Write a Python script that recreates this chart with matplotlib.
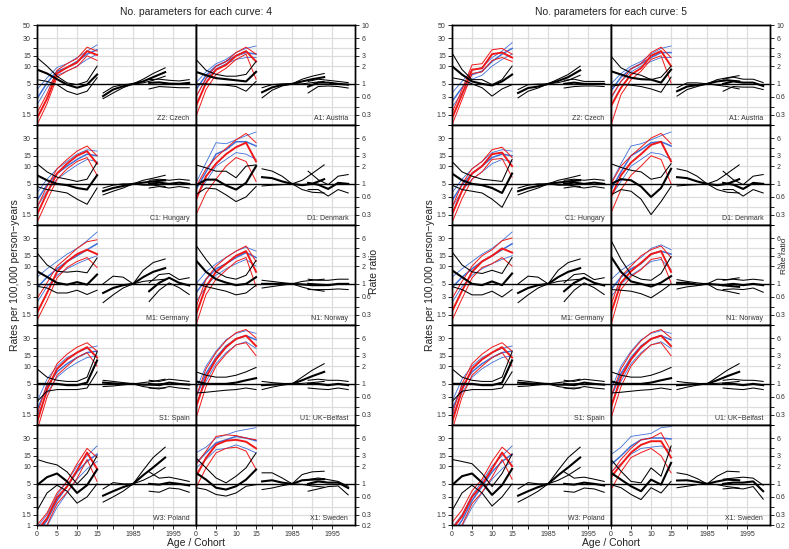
import numpy as np
import matplotlib.pyplot as plt

plt.rcParams['font.family'] = ['Liberation Sans', 'DejaVu Sans']

# x grids of the curves
AGE = [0, 2.5, 5, 7.5, 10, 12.5, 15]
COHORT = [1977.5, 1980, 1982.5, 1985, 1987.5, 1990, 1993]
PERIOD = [1989, 1991.5, 1994, 1996.5, 1999]
ORIGIN = 1961  # calendar year drawn at age 0 of the frame

countries = ['Z2: Czech', 'A1: Austria', 'C1: Hungary', 'D1: Denmark', 'M1: Germany',
             'N1: Norway', 'S1: Spain', 'U1: UK\u2212Belfast', 'W3: Poland', 'X1: Sweden']

# ---- 4 parameters: [upper, estimate, lower] per country ----
red4 = [
    [[1.6, 3.4, 8.5, 11, 13.5, 21, 18], [1.3, 2.8, 7.5, 9.5, 11.5, 18, 15.5], [1.0, 2.3, 6.5, 8.3, 9.8, 15, 12.5]],
    [[3.0, 6.3, 10, 12, 17, 21, 16], [2.1, 5.2, 8.7, 10.5, 15, 18, 12], [1.4, 4.0, 7.2, 9.2, 13, 16, 6]],
    [[2.0, 4.5, 9, 13, 18, 22, 15], [1.5, 3.5, 7.5, 11, 15, 18, 11], [1.1, 2.6, 6, 9, 12, 14, 7]],
    [[4.5, 9, 14, 20, 28, 36, 25], [2.7, 6.7, 11, 16, 21, 25, 12], [1.5, 3.5, 6, 10, 14, 12, 5.5]],
    [[2.8, 5.2, 10, 14, 20, 26, 28], [1.6, 3.5, 8, 12, 16, 19, 16], [1.2, 2.6, 6.3, 9.5, 12, 14, 9.5]],
    [[2.0, 6, 10, 14, 18, 22, 12], [1.5, 4.5, 8, 11, 15, 18, 8], [1.0, 3.3, 6, 8.5, 12, 14, 4.5]],
    [[1.5, 5, 11, 16, 21, 25, 18], [1.1, 4, 9, 13, 17, 21, 14], [0.8, 3, 7, 10, 14, 17, 10]],
    [[3, 9, 17, 27, 37, 42, 30], [2, 6.5, 13, 21, 29, 33, 22], [1.3, 4.5, 10, 16, 23, 25, 15]],
    [[1.0, 1.6, 3.5, 5.5, 11, 20, 14], [0.8, 1.3, 2.9, 4.5, 8.5, 17, 9], [0.6, 1.0, 2.3, 3.6, 6.2, 13, 5.5]],
    [[10.6, 18, 32, 34, 33, 30, 28], [6.7, 13.8, 23, 27, 28, 26, 20], [4.3, 9.3, 16.8, 20, 21, 18, 8.8]],
]
blue4 = [
    [[4.0, 6.3, 9.5, 11, 14, 18, 23], [2.8, 5.2, 8.2, 9.5, 12, 16, 19], [2.2, 4.3, 7.0, 8.2, 10, 13, 16]],
    [[5.2, 8, 11, 13, 17, 20, 22], [4, 7, 10, 12, 15, 17, 16], [3, 6, 9, 11, 13, 14, 14]],
    [[3.5, 6, 9, 12, 16, 19, 18], [2.6, 4.8, 7.5, 10, 13, 16, 15], [2.0, 3.8, 6, 8, 10.5, 13, 12]],
    [[5.2, 11.4, 25, 24, 28, 33, 38], [4.0, 8, 16, 19, 26, 26, 22], [3.1, 5.5, 10, 13, 17, 16, 13]],
    [[6.5, 9, 12, 16, 20, 27, 38], [4.3, 6.5, 9, 12, 15, 19, 24], [2.4, 4.5, 7, 9, 11, 13, 15]],
    [[5, 8, 11, 14, 18, 21, 18], [3.5, 6, 9, 11, 14, 17, 14], [2.5, 4.5, 7, 9, 11, 13, 10]],
    [[2.5, 6, 10, 14, 17, 20, 22], [1.8, 4.5, 8, 11, 14, 17, 18], [1.4, 3.5, 6.5, 9, 11.5, 14, 15]],
    [[4, 10, 18, 28, 36, 40, 36], [3, 7.5, 14, 22, 29, 33, 28], [2.2, 5.5, 11, 17, 23, 26, 20]],
    [[0.9, 1.5, 3.2, 5.5, 10, 15, 22], [0.7, 1.2, 2.6, 4.5, 8, 12, 16], [0.5, 0.95, 2.0, 3.5, 6, 9, 12]],
    [[16.8, 21, 30, 34, 39, 42, 45], [11.3, 16.8, 24.8, 28, 32, 30, 27], [9.3, 13, 19, 20, 23, 20, 16.8]],
]
ratio4 = [
    [[2.8, 2.0, 1.35, 1.04, 0.97, 1.1, 2.0], [1.75, 1.5, 1.2, 0.97, 0.86, 0.97, 1.44], [1.18, 1.1, 0.97, 0.75, 0.66, 0.75, 1.27]],
    [[2.6, 1.7, 1.45, 1.35, 1.35, 1.45, 2.4], [1.6, 1.4, 1.25, 1.2, 1.15, 1.1, 1.6], [1.0, 1.0, 0.97, 0.95, 0.9, 0.75, 1.1]],
    [[2.2, 1.6, 1.3, 1.2, 1.1, 1.2, 2.3], [1.4, 1.15, 1.0, 0.95, 0.85, 0.8, 1.4], [0.9, 0.8, 0.75, 0.7, 0.55, 0.45, 0.85]],
    [[2.1, 1.87, 1.64, 1.64, 1.27, 2.0, 2.1], [0.94, 1.18, 1.18, 0.94, 0.8, 1.04, 2.0], [0.66, 0.85, 0.82, 0.65, 0.5, 0.6, 0.9]],
    [[3.36, 2.1, 1.64, 1.58, 1.64, 1.54, 2.76], [1.64, 1.31, 1.04, 0.97, 1.07, 0.97, 1.44], [0.91, 0.85, 0.7, 0.7, 0.78, 0.66, 0.78]],
    [[4.5, 2.6, 1.6, 1.3, 1.2, 1.4, 2.5], [2.5, 1.6, 1.2, 1.05, 0.95, 1.0, 1.3], [1.0, 0.9, 0.82, 0.75, 0.65, 0.7, 0.95]],
    [[1.8, 1.3, 1.15, 1.1, 1.1, 1.3, 3.5], [1.0, 1.0, 1.0, 0.95, 0.95, 1.05, 2.5], [0.5, 0.75, 0.8, 0.8, 0.8, 0.85, 1.6]],
    [[1.6, 1.4, 1.3, 1.3, 1.4, 1.6, 1.9], [1.1, 1.0, 1.0, 1.0, 1.05, 1.15, 1.25], [0.7, 0.72, 0.75, 0.78, 0.8, 0.85, 0.8]],
    [[2.6, 2.3, 2.1, 1.6, 1.0, 1.5, 3.0], [0.95, 1.3, 1.5, 1.1, 0.7, 0.95, 1.75], [0.35, 0.7, 0.95, 0.75, 0.47, 0.6, 1.0]],
    [[2.76, 1.87, 1.26, 1.04, 1.35, 1.87, 3.35], [1.54, 1.18, 0.86, 0.8, 0.91, 1.18, 1.75], [0.86, 0.8, 0.66, 0.62, 0.7, 0.91, 0.97]],
]
coh4 = [
    [[0.7, 0.89, 0.97, 1, 1.2, 1.5, 1.87], [0.62, 0.8, 0.91, 1, 1.1, 1.3, 1.58], [0.56, 0.7, 0.86, 1, 1.04, 1.15, 1.35]],
    [[0.86, 0.97, 1.0, 1, 1.2, 1.35, 1.5], [0.72, 0.87, 0.96, 1, 1.1, 1.2, 1.3], [0.58, 0.78, 0.92, 1, 1.0, 1.05, 1.1]],
    [[0.85, 0.95, 1.0, 1, 1.15, 1.25, 1.4], [0.75, 0.85, 0.92, 1, 1.05, 1.1, 1.15], [0.65, 0.75, 0.85, 1, 0.95, 0.95, 0.9]],
    [[1.8, 1.65, 1.35, 1, 1.15, 1.5, 2.1], [1.3, 1.25, 1.1, 1, 0.95, 1.0, 1.2], [0.92, 0.95, 0.97, 1, 0.8, 0.72, 0.7]],
    [[1.0, 1.35, 1.3, 1, 1.7, 2.3, 2.65], [0.7, 0.85, 0.95, 1, 1.3, 1.6, 1.85], [0.48, 0.65, 0.85, 1, 1.1, 1.15, 1.2]],
    [[1.15, 1.1, 1.05, 1, 1.1, 1.15, 1.2], [1.0, 1.0, 1.0, 1, 0.98, 0.95, 0.95], [0.85, 0.9, 0.95, 1, 0.88, 0.8, 0.75]],
    [[1.15, 1.1, 1.05, 1, 1.05, 1.1, 1.2], [1.05, 1.02, 1.0, 1, 0.97, 0.97, 1.0], [0.9, 0.92, 0.96, 1, 0.9, 0.85, 0.85]],
    [[1.1, 1.05, 1.02, 1, 1.3, 1.7, 2.2], [0.95, 0.97, 0.99, 1, 1.15, 1.35, 1.6], [0.8, 0.88, 0.95, 1, 1.02, 1.05, 1.1]],
    [[0.82, 1.05, 1.0, 1, 1.7, 2.8, 4.2], [0.63, 0.75, 0.88, 1, 1.4, 1.9, 2.8], [0.49, 0.6, 0.75, 1, 1.15, 1.4, 1.9]],
    [[1.54, 1.54, 1.26, 1, 1.44, 1.6, 1.64], [1.1, 1.15, 1.05, 1, 1.15, 1.18, 1.2], [0.8, 0.85, 0.93, 1, 0.98, 0.92, 0.88]],
]
per4 = [
    [[1.18, 1.2, 1.15, 1.12, 1.18], [1.04, 1.06, 1.01, 1.0, 1.04], [0.82, 0.9, 0.88, 0.86, 0.86]],
    [[1.1, 1.2, 1.15, 1.1, 1.05], [0.9, 1.05, 1.05, 1.0, 0.97], [0.7, 0.9, 0.92, 0.9, 0.85]],
    [[1.15, 1.2, 1.15, 1.2, 1.15], [1.0, 1.05, 1.0, 1.05, 1.0], [0.85, 0.9, 0.85, 0.9, 0.85]],
    [[1.64, 1.18, 0.97, 1.35, 1.44], [1.04, 0.97, 0.82, 1.04, 1.0], [0.8, 0.8, 0.62, 0.8, 0.7]],
    [[1.04, 1.44, 1.5, 1.18, 1.27], [0.75, 1.04, 1.27, 1.04, 0.94], [0.5, 0.78, 1.04, 0.86, 0.66]],
    [[1.2, 1.15, 1.15, 1.2, 1.2], [1.0, 0.97, 0.95, 1.0, 1.0], [0.8, 0.8, 0.8, 0.82, 0.8]],
    [[1.15, 1.1, 1.2, 1.15, 1.1], [1.0, 0.95, 1.05, 1.0, 0.97], [0.85, 0.82, 0.9, 0.85, 0.82]],
    [[1.15, 1.2, 1.15, 1.15, 1.1], [1.0, 1.0, 0.95, 1.0, 0.95], [0.85, 0.82, 0.8, 0.85, 0.8]],
    [[1.6, 1.25, 1.3, 1.2, 1.1], [1.0, 0.97, 1.05, 1.0, 0.94], [0.75, 0.72, 0.85, 0.82, 0.72]],
    [[1.18, 1.26, 1.18, 1.1, 0.91], [1.0, 1.1, 1.05, 1.05, 0.85], [0.75, 0.82, 0.9, 0.92, 0.65]],
]

# ---- 5 parameters ----
red5 = [
    [[1.6, 4, 10.5, 11, 19, 20, 16], [1.3, 3.3, 8.7, 9.2, 16, 17, 14], [1.0, 2.7, 7.5, 8, 12.5, 14, 12]],
    [[3.0, 5.5, 9, 11, 17, 21, 14], [2.1, 4.3, 7.2, 9.2, 15, 18, 10], [1.0, 3.3, 5.9, 8.2, 13, 15, 5.2]],
    [[2.0, 5, 9, 12, 19, 21, 14], [1.5, 3.8, 7.5, 10, 16, 17, 10], [1.1, 2.8, 6, 8, 13, 13.5, 6.5]],
    [[5, 10, 15, 21, 30, 36, 24], [3, 7, 11.5, 16, 23, 26, 12], [1.6, 4, 7, 10, 15, 13, 5]],
    [[2.8, 5.5, 10, 15, 19, 27, 30], [1.7, 3.8, 8, 12, 15, 20, 17], [1.2, 2.8, 6.3, 9.5, 11, 14, 10]],
    [[2.2, 6.7, 10, 15, 19, 22, 14], [1.6, 5.2, 8.2, 11.4, 16, 18, 8], [1.0, 4.0, 6.7, 8.7, 13, 14, 5.2]],
    [[1.5, 5, 11, 16, 21, 25, 18], [1.1, 4, 9, 13, 17, 21, 14], [0.8, 3, 7, 10, 14, 17, 10]],
    [[3, 9, 17, 27, 37, 42, 30], [2, 6.5, 13, 21, 29, 33, 22], [1.3, 4.5, 10, 16, 23, 25, 15]],
    [[1.1, 1.8, 3.8, 6, 12, 21, 15], [0.85, 1.4, 3.0, 4.8, 9, 17, 10], [0.6, 1.0, 2.3, 3.6, 6.5, 13, 6]],
    [[7.5, 13, 20, 28, 30, 37, 18], [6.5, 10.6, 17, 23, 26.5, 26.5, 14], [4.0, 8, 14, 17, 20, 15, 7.7]],
]
blue5 = [
    [[3.5, 5.5, 8.5, 9.5, 14, 18, 25], [2.5, 4.3, 7.2, 8.2, 12, 16, 20], [2.0, 3.5, 6, 7, 10, 13, 16]],
    [[5, 7.5, 10, 12, 16, 20, 22], [3.8, 6.5, 9, 11, 14, 17, 17], [2.8, 5.5, 8, 10, 12, 14, 14]],
    [[3.5, 6, 9, 12, 17, 19, 18], [2.6, 4.8, 7.5, 10, 14, 16, 15], [2.0, 3.8, 6, 8, 11, 13, 12]],
    [[5.2, 11, 22, 24, 28, 33, 38], [4.0, 8, 15, 19, 25, 26, 22], [3.1, 5.5, 10, 13, 17, 16, 13]],
    [[6.5, 9, 12, 16, 20, 27, 38], [4.3, 6.5, 9, 12, 15, 19, 24], [2.4, 4.5, 7, 9, 11, 13, 15]],
    [[5.9, 8.5, 11, 14, 20, 23, 19], [4.0, 6.5, 9, 11, 16, 18, 16], [3.0, 5, 7, 9, 12, 13, 8.7]],
    [[2.5, 6, 10, 14, 17, 20, 22], [1.8, 4.5, 8, 11, 14, 17, 18], [1.4, 3.5, 6.5, 9, 11.5, 14, 15]],
    [[4, 10, 18, 28, 36, 40, 36], [3, 7.5, 14, 22, 29, 33, 28], [2.2, 5.5, 11, 17, 23, 26, 20]],
    [[0.9, 1.5, 3.2, 5.5, 10, 15, 22], [0.7, 1.2, 2.6, 4.5, 8, 12, 16], [0.5, 0.95, 2.0, 3.5, 6, 9, 12]],
    [[15.7, 21, 32, 34, 36, 45, 47], [10.6, 15, 22, 28, 30, 30, 29], [8.1, 11, 16, 20, 21, 22, 18]],
]
ratio5 = [
    [[3.36, 1.75, 1.18, 1.18, 0.97, 1.18, 2.0], [2.0, 1.44, 1.1, 1.0, 0.94, 1.1, 1.44], [1.27, 1.18, 1.0, 0.86, 0.62, 0.82, 0.97]],
    [[2.95, 1.87, 1.54, 1.4, 1.18, 1.3, 2.0], [1.64, 1.44, 1.27, 1.2, 1.18, 1.05, 1.75], [0.91, 0.97, 0.95, 0.9, 0.82, 0.72, 1.3]],
    [[2.4, 1.6, 1.35, 1.2, 1.15, 1.1, 2.6], [1.5, 1.15, 1.0, 0.95, 0.85, 0.7, 1.5], [0.95, 0.8, 0.75, 0.7, 0.55, 0.4, 0.85]],
    [[2.2, 1.9, 1.7, 1.6, 1.2, 1.3, 2.2], [1.0, 1.2, 1.15, 0.9, 0.6, 0.85, 1.8], [0.65, 0.8, 0.75, 0.55, 0.3, 0.5, 0.9]],
    [[3.5, 2.1, 1.6, 1.5, 1.7, 1.5, 2.8], [1.7, 1.3, 1.0, 0.95, 1.1, 0.95, 1.5], [0.9, 0.8, 0.65, 0.65, 0.75, 0.6, 0.8]],
    [[5.5, 2.6, 1.44, 1.2, 1.15, 1.5, 2.9], [2.9, 1.6, 1.1, 1.0, 0.9, 1.05, 1.35], [0.8, 0.78, 0.75, 0.68, 0.58, 0.75, 1.0]],
    [[1.8, 1.3, 1.15, 1.1, 1.1, 1.3, 3.5], [1.0, 1.0, 1.0, 0.95, 0.95, 1.05, 2.5], [0.5, 0.75, 0.8, 0.8, 0.8, 0.85, 1.6]],
    [[1.6, 1.4, 1.3, 1.3, 1.4, 1.6, 1.9], [1.1, 1.0, 1.0, 1.0, 1.05, 1.15, 1.25], [0.7, 0.72, 0.75, 0.78, 0.8, 0.85, 0.8]],
    [[2.6, 2.4, 2.2, 1.5, 0.9, 1.5, 3.2], [0.95, 1.35, 1.5, 1.05, 0.65, 0.95, 1.8], [0.35, 0.7, 0.95, 0.7, 0.42, 0.6, 1.0]],
    [[2.6, 1.64, 1.1, 1.04, 1.87, 1.35, 4.4], [1.54, 1.18, 0.91, 0.75, 1.18, 0.97, 2.27], [0.97, 0.86, 0.66, 0.54, 0.86, 0.7, 1.1]],
]
coh5 = [
    [[0.8, 0.97, 0.99, 1, 1.2, 1.44, 2.0], [0.7, 0.85, 0.9, 1, 1.12, 1.3, 1.7], [0.58, 0.75, 0.85, 1, 1.05, 1.15, 1.4]],
    [[0.86, 1.04, 1.04, 1, 1.18, 1.27, 1.38], [0.75, 0.9, 0.95, 1, 1.1, 1.15, 1.1], [0.62, 0.8, 0.9, 1, 0.95, 0.9, 0.82]],
    [[0.85, 0.95, 1.0, 1, 1.15, 1.25, 1.4], [0.75, 0.85, 0.92, 1, 1.05, 1.1, 1.15], [0.65, 0.75, 0.85, 1, 0.95, 0.95, 0.9]],
    [[1.8, 1.65, 1.35, 1, 1.15, 1.5, 2.1], [1.3, 1.25, 1.1, 1, 0.95, 1.0, 1.2], [0.92, 0.95, 0.97, 1, 0.8, 0.72, 0.7]],
    [[1.0, 1.35, 1.3, 1, 1.7, 2.3, 2.65], [0.7, 0.85, 0.95, 1, 1.3, 1.6, 1.85], [0.48, 0.65, 0.85, 1, 1.1, 1.15, 1.2]],
    [[1.18, 1.1, 1.04, 1, 1.2, 1.18, 1.27], [1.04, 1.04, 0.97, 1, 0.97, 0.93, 0.89], [0.82, 0.89, 0.93, 1, 0.8, 0.75, 0.68]],
    [[1.15, 1.1, 1.05, 1, 1.05, 1.1, 1.2], [1.05, 1.02, 1.0, 1, 0.97, 0.97, 1.0], [0.9, 0.92, 0.96, 1, 0.9, 0.85, 0.85]],
    [[1.1, 1.05, 1.02, 1, 1.3, 1.7, 2.2], [0.95, 0.97, 0.99, 1, 1.15, 1.35, 1.6], [0.8, 0.88, 0.95, 1, 1.02, 1.05, 1.1]],
    [[0.82, 1.05, 1.0, 1, 1.7, 2.8, 4.2], [0.63, 0.75, 0.88, 1, 1.4, 1.9, 2.8], [0.49, 0.6, 0.75, 1, 1.15, 1.4, 1.9]],
    [[1.54, 1.44, 1.23, 1, 1.35, 1.64, 1.6], [1.14, 1.15, 1.08, 1, 1.1, 1.18, 1.15], [0.86, 0.91, 0.97, 1, 0.97, 0.9, 0.85]],
]
per5 = [
    [[1.15, 1.2, 1.1, 1.1, 1.1], [1.0, 1.05, 1.0, 1.0, 1.0], [0.85, 0.9, 0.92, 0.92, 0.9]],
    [[1.2, 1.3, 1.2, 1.2, 1.05], [1.0, 1.1, 1.05, 1.05, 0.92], [0.75, 0.9, 0.88, 0.88, 0.8]],
    [[1.15, 1.2, 1.15, 1.2, 1.15], [1.0, 1.05, 1.0, 1.05, 1.0], [0.85, 0.9, 0.85, 0.9, 0.85]],
    [[1.64, 1.18, 0.97, 1.35, 1.44], [1.04, 0.97, 0.82, 1.04, 1.0], [0.8, 0.8, 0.62, 0.8, 0.7]],
    [[1.04, 1.44, 1.5, 1.18, 1.27], [0.75, 1.04, 1.27, 1.04, 0.94], [0.5, 0.78, 1.04, 0.86, 0.66]],
    [[1.15, 1.2, 1.15, 1.2, 1.15], [0.95, 1.0, 0.95, 1.0, 0.95], [0.8, 0.82, 0.8, 0.85, 0.72]],
    [[1.15, 1.1, 1.2, 1.15, 1.1], [1.0, 0.95, 1.05, 1.0, 0.97], [0.85, 0.82, 0.9, 0.85, 0.82]],
    [[1.15, 1.2, 1.15, 1.15, 1.1], [1.0, 1.0, 0.95, 1.0, 0.95], [0.85, 0.82, 0.8, 0.85, 0.8]],
    [[1.6, 1.25, 1.3, 1.2, 1.1], [1.0, 0.97, 1.05, 1.0, 0.94], [0.75, 0.72, 0.85, 0.82, 0.72]],
    [[1.2, 1.25, 1.3, 1.25, 0.95], [1.0, 1.05, 1.05, 1.1, 0.75], [0.82, 0.85, 0.82, 0.9, 0.55]],
]

rate_ticks = [1, 1.5, 2, 3, 5, 10, 15, 20, 30, 50]
rr_ticks = [0.2, 0.3, 0.4, 0.6, 1, 2, 3, 4, 6, 10]
x_ticks = [0, 5, 10, 15, 19, 24, 29, 34]
x_labels = ['0', '5', '10', '15', '', '1985', '', '1995']

RED = '#f01818'
BLUE = '#3f6fd8'
GRID = '#dddddd'
TXT = '#333333'

W, H = 789, 549
fig = plt.figure(figsize=(W / 100, H / 100), dpi=100)


def fmt(v):
    return ('%g' % v)


def draw_panel(x0, y0, col, row, name, red, blue, ratio, coh, per):
    ax = fig.add_axes([x0 / W, 1 - (y0 + 100) / H, 159 / W, 100 / H])
    ax.set_yscale('log')
    ax.set_ylim(1, 50)
    ax.set_xlim(0, 39.7)
    for g in [1.5, 2, 3, 10, 15, 20, 30]:
        ax.axhline(g, color=GRID, lw=0.9, zorder=0)
    for g in x_ticks:
        ax.axvline(g, color=GRID, lw=0.9, zorder=0)
    ax2 = ax.twinx()
    ax2.set_yscale('log')
    ax2.set_ylim(0.2, 10)
    ax2.axhline(1, color='black', lw=1.0, zorder=1)

    for k, ln in enumerate(blue):
        ax.plot(AGE, ln, color=BLUE, lw=1.1 if k == 1 else 0.6, zorder=2)
    for k, ln in enumerate(red):
        ax.plot(AGE, ln, color=RED, lw=1.4 if k == 1 else 0.7, zorder=3)
    for k in range(3):
        lw = 1.5 if k == 1 else 0.75
        ax2.plot(AGE, ratio[k], color='black', lw=lw, zorder=4)
        ax2.plot(np.array(COHORT) - ORIGIN, coh[k], color='black', lw=lw, zorder=4)
        ax2.plot(np.array(PERIOD) - ORIGIN, per[k], color='black', lw=lw, zorder=4)

    ax.text(0.958, 0.07, name, transform=ax.transAxes, ha='right', va='center',
            fontsize=5, color=TXT)

    for a in (ax, ax2):
        for s in a.spines.values():
            s.set_linewidth(1.0)
        a.tick_params(which='both', length=3, width=0.6, labelsize=5, pad=1.5,
                      colors='black', labelcolor=TXT)

    # left axis (rates) only on left column, right axis (ratio) only on right column
    if col == 0:
        labs = [fmt(v) if (v not in (2, 20) and (v != 50 or row == 0) and (v != 1 or row == 4)) else ''
                for v in rate_ticks]
        ax.set_yticks(rate_ticks, labs)
        ax2.set_yticks([])
    else:
        ax.set_yticks([])
        labs = [fmt(v) if (v not in (0.4, 4) and (v != 10 or row == 0) and (v != 0.2 or row == 4)) else ''
                for v in rr_ticks]
        ax2.set_yticks(rr_ticks, labs)
    ax.yaxis.set_minor_locator(plt.NullLocator())
    ax2.yaxis.set_minor_locator(plt.NullLocator())

    if row == 4:
        ax.set_xticks(x_ticks, x_labels)
    else:
        ax.set_xticks([])


groups = [(37, '4', red4, blue4, ratio4, coh4, per4),
          (452, '5', red5, blue5, ratio5, coh5, per5)]

for gx, npar, red, blue, ratio, coh, per in groups:
    for i, name in enumerate(countries):
        row, col = divmod(i, 2)
        draw_panel(gx + 159 * col, 25 + 100 * row, col, row, name,
                   red[i], blue[i], ratio[i], coh[i], per[i])
    cx = gx + 159
    fig.text(cx / W, 1 - 12 / H, 'No. parameters for each curve: ' + npar,
             ha='center', va='center', fontsize=7.5, color='#222222')
    fig.text(cx / W, 1 - 543 / H, 'Age / Cohort', ha='center', va='center',
             fontsize=7.5, color='#222222')
    fig.text((gx - 22) / W, 1 - 275 / H, 'Rates per 100,000 person\u2212years',
             rotation=90, ha='center', va='center', fontsize=7.5, color='#222222')

# rate-ratio labels; the right one sits at the figure edge, between tick labels
fig.text(374 / W, 1 - 272 / H, 'Rate ratio', rotation=90,
         ha='center', va='center', fontsize=7.5, color='#222222')
fig.text(785 / W, 1 - 256 / H, 'Rate ratio', rotation=90,
         ha='center', va='center', fontsize=6, color='#222222')

fig.savefig('out.png', dpi=100)
